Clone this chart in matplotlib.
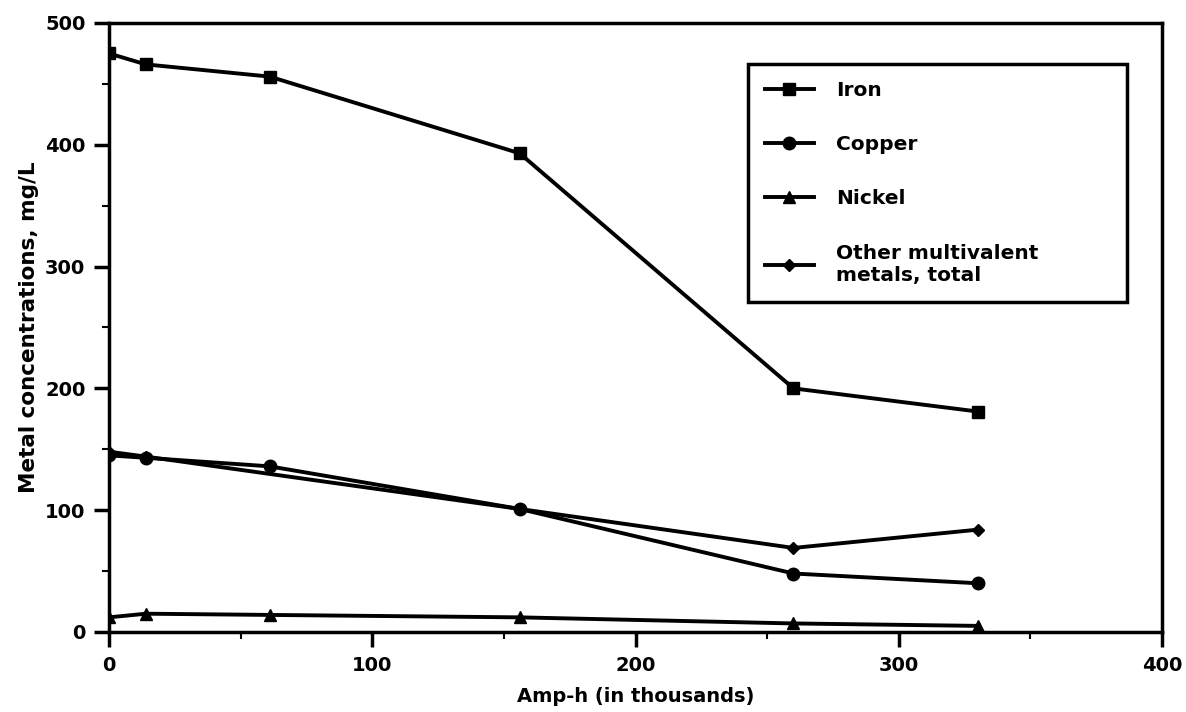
import matplotlib
matplotlib.use('Agg')
import matplotlib.pyplot as plt
from matplotlib.ticker import MultipleLocator

amp_h = [0, 14, 61, 156, 260, 330]
iron = [475, 466, 456, 393, 200, 181]
copper = [145, 143, 136, 101, 48, 40]
nickel = [12, 15, 14, 12, 7, 5]
other_x = [0, 14, 156, 260, 330]
other = [148, 144, 101, 69, 84]

plt.rcParams['font.family'] = ['DejaVu Sans']
plt.rcParams['font.weight'] = 'bold'

fig = plt.figure(figsize=(11.86, 7.12), dpi=100)
ax = fig.add_axes([0.0919, 0.1124, 0.8879, 0.8553])

style = dict(color='black', lw=2.8)
ax.plot(amp_h, iron, marker='s', ms=8, label='Iron', **style)
ax.plot(amp_h, copper, marker='o', ms=9, label='Copper', **style)
ax.plot(amp_h, nickel, marker='^', ms=8, label='Nickel', **style)
ax.plot(other_x, other, marker='D', ms=6, label='Other multivalent\nmetals, total', **style)

ax.set_xlim(0, 400)
ax.set_ylim(0, 500)
ax.xaxis.set_major_locator(MultipleLocator(100))
ax.xaxis.set_minor_locator(MultipleLocator(50))
ax.yaxis.set_major_locator(MultipleLocator(100))
ax.yaxis.set_minor_locator(MultipleLocator(50))
ax.tick_params(which='major', direction='out', length=11, width=2.5, labelsize=14, pad=6)
ax.tick_params(which='minor', direction='out', length=5, width=1.5)
for s in ax.spines.values():
    s.set_linewidth(2.5)

ax.set_xlabel('Amp-h (in thousands)', fontsize=14, fontweight='bold', labelpad=9)
ax.set_ylabel('Metal concentrations, mg/L', fontsize=15.5, fontweight='bold', labelpad=4)

leg = ax.legend(loc='upper left', bbox_to_anchor=(0.607, 0.542, 0.36, 0.391),
                mode='expand', fancybox=False, edgecolor='black', framealpha=1,
                fontsize=14.5, handlelength=2.4, labelspacing=1.75, borderpad=0.85,
                handletextpad=1.1, borderaxespad=0)
leg.get_frame().set_linewidth(2.5)
for t in leg.get_texts():
    t.set_fontweight('bold')

fig.savefig('out.png', dpi=100)
